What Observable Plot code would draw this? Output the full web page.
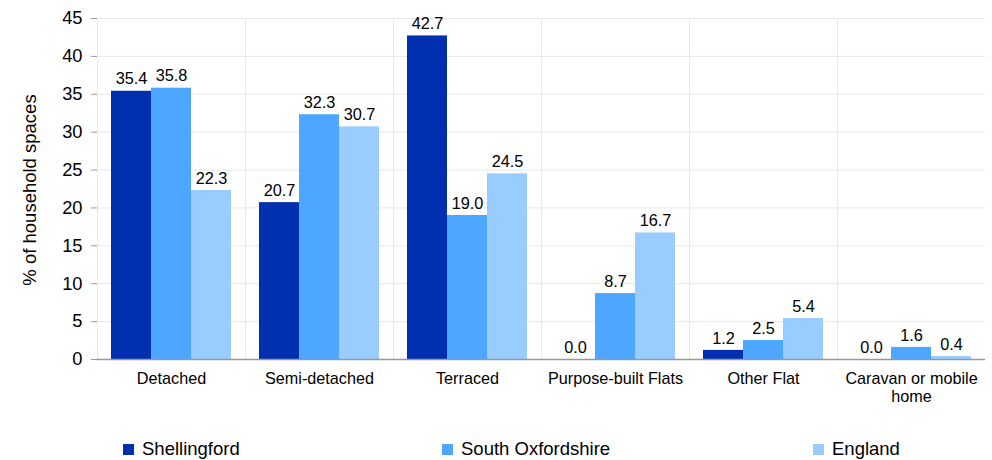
<!DOCTYPE html>
<html>
<head>
<meta charset="utf-8">
<script src="https://cdn.jsdelivr.net/npm/d3@7"></script>
<script src="https://cdn.jsdelivr.net/npm/@observablehq/plot@0.6"></script>
<style>
  body { margin: 0; background: #fff; font-family: "Liberation Sans", Arial, sans-serif; }
  #wrap { position: relative; width: 992px; height: 460px; }
  #legend { position: absolute; left: 0; top: 437px; width: 992px; height: 24px; font-size: 18.5px; color: #000; }
  .item { position: absolute; top: 0; display: flex; align-items: center; height: 24px; }
  .sw { width: 11px; height: 11px; margin-right: 8px; }
  #ytitle { position: absolute; left: 30px; top: 190px; transform: translate(-50%, -50%) rotate(-90deg); white-space: nowrap; font-size: 18.5px; color: #000; }
</style>
</head>
<body>
<div id="wrap"><div id="chart"></div><div id="ytitle"></div><div id="legend"></div></div>
<script>
const categories = ["Detached", "Semi-detached", "Terraced", "Purpose-built Flats", "Other Flat", "Caravan or mobile home"];
const seriesNames = ["Shellingford", "South Oxfordshire", "England"];
const shellingford = [35.4, 20.7, 42.7, 0.0, 1.2, 0.0];
const southOxfordshire = [35.8, 32.3, 19.0, 8.7, 2.5, 1.6];
const england = [22.3, 30.7, 24.5, 16.7, 5.4, 0.4];
const colors = ["#0030b0", "#4da6ff", "#99ccff"];
const yTicks = [0, 5, 10, 15, 20, 25, 30, 35, 40, 45];
const yTitle = "% of household spaces";

const seriesValues = [shellingford, southOxfordshire, england];
const data = [];
categories.forEach((c, i) => seriesNames.forEach((s, j) => data.push({category: c, series: s, value: seriesValues[j][i]})));

const wrapLabel = d => d === "Caravan or mobile home" ? "Caravan or mobile\nhome" : d;

const chart = Plot.plot({
  width: 992,
  height: 425,
  marginTop: 18,
  marginBottom: 66,
  marginLeft: 96,
  marginRight: 7,
  style: {fontFamily: "Liberation Sans, Arial, sans-serif", color: "#000", background: "#fff"},
  fx: {domain: categories, padding: 0},
  x: {domain: seriesNames, paddingInner: 0, paddingOuter: 0.35, axis: null},
  y: {domain: [0, 45], ticks: yTicks},
  color: {domain: seriesNames, range: colors},
  marks: [
    Plot.gridY(yTicks, {stroke: "#e8e8e8", strokeOpacity: 1}),
    Plot.frame({anchor: "left", stroke: "#e8e8e8"}),
    Plot.barY(data, {fx: "category", x: "series", y: "value", fill: "series", inset: 0}),
    Plot.text(data, {fx: "category", x: "series", y: "value", text: d => d.value.toFixed(1), dy: -12, fontSize: 16.3, fill: "#000"}),
    Plot.axisY(yTicks, {fontSize: 18.3, tickSize: 6, tickPadding: 9, stroke: "#999", label: null, anchor: "left"}),
    Plot.axisFx({anchor: "bottom", tickSize: 0, tickPadding: 12, fontSize: 16.2, label: null, tickFormat: wrapLabel, lineHeight: 1.1}),
    Plot.ruleY([0], {stroke: "#999", strokeWidth: 1.5})
  ]
});
document.getElementById("chart").appendChild(chart);
document.getElementById("ytitle").textContent = yTitle;

const legend = document.getElementById("legend");
const lx = [123, 442, 813];
seriesNames.forEach((s, i) => {
  const it = document.createElement("div");
  it.className = "item";
  it.style.left = lx[i] + "px";
  it.innerHTML = `<div class="sw" style="background:${colors[i]}"></div><span>${s}</span>`;
  legend.appendChild(it);
});
</script>
</body>
</html>
